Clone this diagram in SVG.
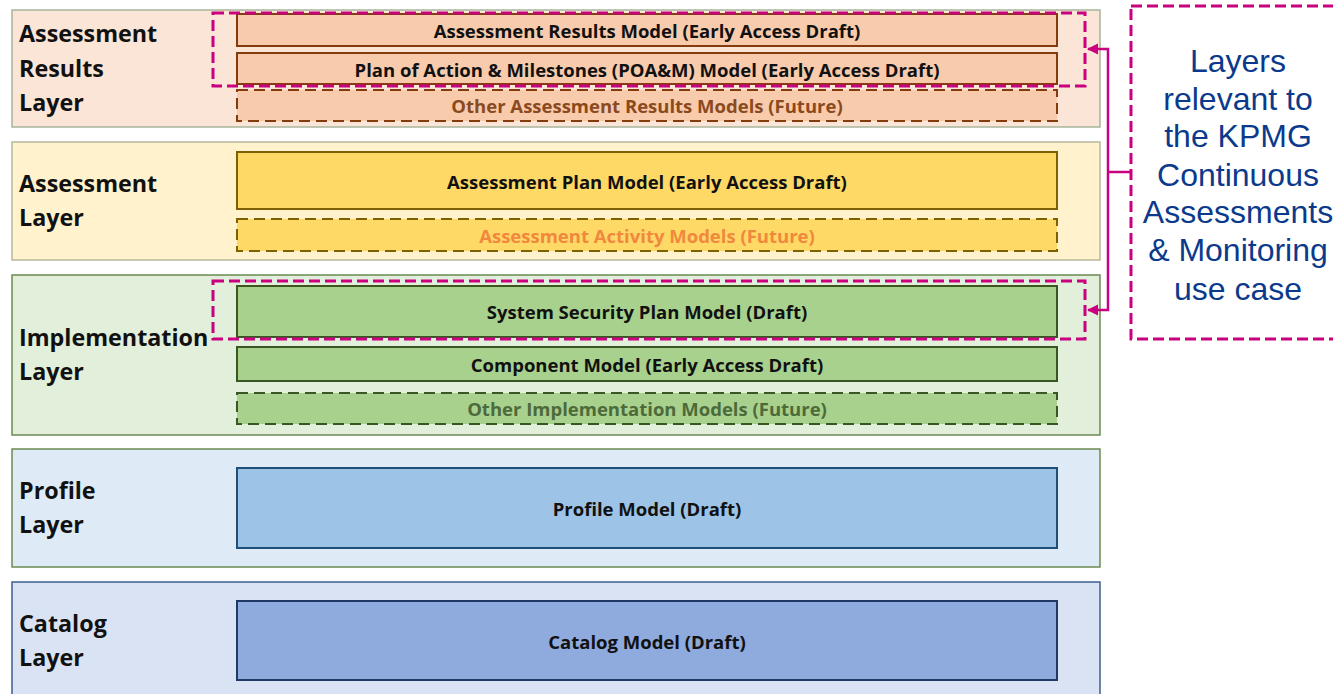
<svg xmlns="http://www.w3.org/2000/svg" width="1333" height="694" viewBox="0 0 1333 694">
<defs>
<style>
.lbl{font-family:"Open Sans",Lato,"Liberation Sans",sans-serif;font-weight:bold;font-size:23.3px;fill:#111}
.bt{font-family:"Open Sans",Lato,"Liberation Sans",sans-serif;font-weight:bold;font-size:18.5px;fill:#111;text-anchor:middle;dominant-baseline:central}
.hl{fill:none;stroke:#c9007f;stroke-width:3;stroke-dasharray:11,5}
.side{font-family:"Liberation Sans",Arial,sans-serif;font-size:32px;fill:#0b3a8c;text-anchor:middle}
</style>
<marker id="ah" viewBox="0 0 10 10" refX="9" refY="5" markerWidth="4.5" markerHeight="4.5" orient="auto" markerUnits="strokeWidth">
<path d="M0,0 L10,5 L0,10 z" fill="#c9007f"/>
</marker>
</defs>
<rect width="1333" height="694" fill="#fff"/>

<g id="layer-results">
<rect x="12" y="10" width="1088" height="117" fill="#fbe5d6" stroke="#a9b59c" stroke-width="1.5"/>
<text class="lbl" x="19" y="42">Assessment</text>
<text class="lbl" x="19" y="77">Results</text>
<text class="lbl" x="19" y="111">Layer</text>
<rect x="237" y="14" width="820" height="32" fill="#f8cbad" stroke="#843c0c" stroke-width="2"/>
<text class="bt" x="647" y="30">Assessment Results Model (Early Access Draft)</text>
<rect x="237" y="53" width="820" height="31" fill="#f8cbad" stroke="#843c0c" stroke-width="2"/>
<text class="bt" x="647" y="69">Plan of Action &amp; Milestones (POA&amp;M) Model (Early Access Draft)</text>
<rect x="237" y="90" width="820" height="31" fill="#f8cbad" stroke="#843c0c" stroke-width="2" stroke-dasharray="11,6"/>
<text class="bt" x="647" y="105" style="fill:#8b4a1e">Other Assessment Results Models (Future)</text>
</g>

<g id="layer-assessment">
<rect x="12" y="142" width="1088" height="118" fill="#fff2cc" stroke="#b5b89a" stroke-width="1.5"/>
<text class="lbl" x="19" y="192">Assessment</text>
<text class="lbl" x="19" y="226">Layer</text>
<rect x="237" y="152" width="820" height="57" fill="#ffd966" stroke="#7f6000" stroke-width="2"/>
<text class="bt" x="647" y="181">Assessment Plan Model (Early Access Draft)</text>
<rect x="237" y="219" width="820" height="32" fill="#ffd966" stroke="#7f6000" stroke-width="2" stroke-dasharray="11,6"/>
<text class="bt" x="647" y="235" style="fill:#f0883e">Assessment Activity Models (Future)</text>
</g>

<g id="layer-implementation">
<rect x="12" y="275" width="1088" height="160" fill="#e2efda" stroke="#6b8a52" stroke-width="1.5"/>
<text class="lbl" x="19" y="346">Implementation</text>
<text class="lbl" x="19" y="380">Layer</text>
<rect x="237" y="286" width="820" height="51" fill="#a9d18e" stroke="#385723" stroke-width="2"/>
<text class="bt" x="647" y="311">System Security Plan Model (Draft)</text>
<rect x="237" y="347" width="820" height="34" fill="#a9d18e" stroke="#385723" stroke-width="2"/>
<text class="bt" x="647" y="364">Component Model (Early Access Draft)</text>
<rect x="237" y="393" width="820" height="31" fill="#a9d18e" stroke="#385723" stroke-width="2" stroke-dasharray="11,6"/>
<text class="bt" x="647" y="408" style="fill:#4d6b3a">Other Implementation Models (Future)</text>
</g>

<g id="layer-profile">
<rect x="12" y="449" width="1088" height="118" fill="#deebf7" stroke="#6b8a52" stroke-width="1.5"/>
<text class="lbl" x="19" y="499">Profile</text>
<text class="lbl" x="19" y="533">Layer</text>
<rect x="237" y="468" width="820" height="80" fill="#9dc3e6" stroke="#1f4e79" stroke-width="2"/>
<text class="bt" x="647" y="508">Profile Model (Draft)</text>
</g>

<g id="layer-catalog">
<rect x="12" y="582" width="1088" height="120" fill="#dae3f3" stroke="#3d5f8f" stroke-width="1.5"/>
<text class="lbl" x="19" y="632">Catalog</text>
<text class="lbl" x="19" y="666">Layer</text>
<rect x="237" y="601" width="820" height="79" fill="#8faadc" stroke="#203864" stroke-width="2"/>
<text class="bt" x="647" y="641">Catalog Model (Draft)</text>
</g>

<g id="highlight-results">
<rect class="hl" x="213" y="13" width="872" height="73"/>
</g>
<g id="highlight-ssp">
<rect class="hl" x="213" y="281" width="872" height="58"/>
</g>

<g id="note">
<rect class="hl" x="1131" y="6" width="210" height="333"/>
<text class="side" x="1238" y="72">Layers</text>
<text class="side" x="1238" y="110">relevant to</text>
<text class="side" x="1238" y="147">the KPMG</text>
<text class="side" x="1238" y="186">Continuous</text>
<text class="side" x="1238" y="223">Assessments</text>
<text class="side" x="1238" y="261">&amp; Monitoring</text>
<text class="side" x="1238" y="300">use case</text>
</g>

<g id="connectors" fill="none" stroke="#c9007f" stroke-width="2.5">
<path d="M1131,172 H1108"/>
<path d="M1108,172 V49 H1088" marker-end="url(#ah)"/>
<path d="M1108,172 V310 H1088" marker-end="url(#ah)"/>
</g>
</svg>
